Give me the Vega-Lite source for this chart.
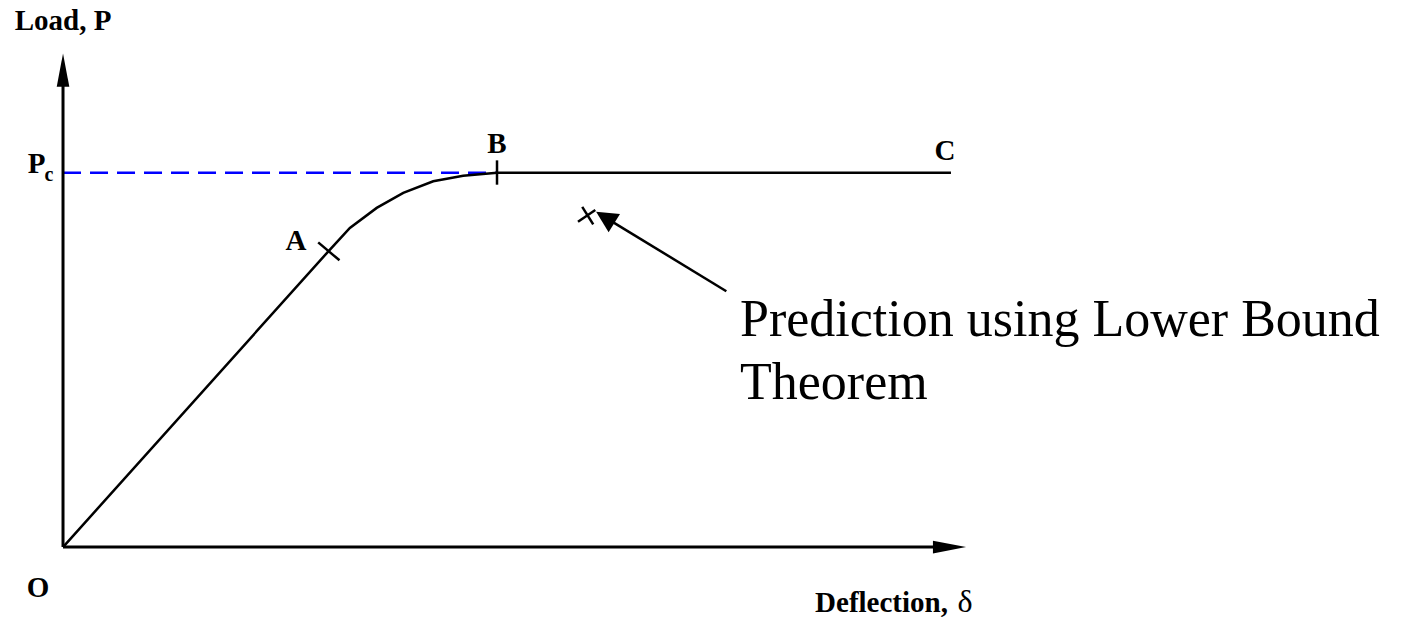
{
  "$schema": "https://vega.github.io/schema/vega-lite/v6.json",
  "width": 1411,
  "height": 618,
  "autosize": {"type": "fit", "contains": "padding"},
  "padding": 0,
  "background": "white",
  "config": {"view": {"stroke": null}},
  "datasets": {
    "curve": [
      {"d": 0.0, "p": 0.0},
      {"d": 0.613, "p": 0.792},
      {"d": 0.661, "p": 0.8525},
      {"d": 0.7228, "p": 0.906},
      {"d": 0.784, "p": 0.946},
      {"d": 0.853, "p": 0.977},
      {"d": 0.922, "p": 0.992},
      {"d": 1.0, "p": 1.0},
      {"d": 2.046, "p": 1.0}
    ],
    "axes": [
      {"part": "load axis", "d0": 0, "p0": 0, "d1": 0, "p1": 1.232},
      {"part": "deflection axis", "d0": 0, "p0": 0, "d1": 2.008, "p1": 0}
    ],
    "segments": [
      {"part": "pointer", "d0": 1.5284, "p0": 0.6835, "d1": 1.2689, "p1": 0.8667},
      {"part": "tick A", "d0": 0.588, "p0": 0.814, "d1": 0.637, "p1": 0.766},
      {"part": "tick B", "d0": 1.0, "p0": 1.033, "d1": 1.0, "p1": 0.968},
      {"part": "lower bound x1", "d0": 1.1866, "p0": 0.8691, "d1": 1.2265, "p1": 0.9003},
      {"part": "lower bound x2", "d0": 1.1964, "p0": 0.9086, "d1": 1.2217, "p1": 0.8622}
    ],
    "collapse": [
      {"d0": 0, "d1": 1.0, "p": 1.0}
    ],
    "labels": [
      {"text": "Load, P", "d": 0.0, "p": 1.3813},
      {"text": "P", "d": -0.0611, "p": 1.0},
      {"text": "A", "d": 0.5369, "p": 0.7947},
      {"text": "B", "d": 1.0, "p": 1.0533},
      {"text": "C", "d": 2.0323, "p": 1.0347},
      {"text": "O", "d": -0.0576, "p": -0.1333},
      {"text": "Deflection,", "d": 1.886, "p": -0.1733}
    ],
    "note": [
      {"text": "Prediction using Lower Bound", "d": 1.5599, "p": 0.5627},
      {"text": "Theorem", "d": 1.5599, "p": 0.3947}
    ]
  },
  "encoding": {
    "x": {"type": "quantitative", "scale": {"domain": [-0.1452, 3.106], "nice": false, "zero": false}, "axis": null},
    "y": {"type": "quantitative", "scale": {"domain": [-0.1867, 1.4613], "nice": false, "zero": false}, "axis": null}
  },
  "layer": [
    {
      "data": {"name": "collapse"},
      "mark": {"type": "rule", "color": "#0000ff", "strokeWidth": 2.5, "strokeDash": [18, 9]},
      "encoding": {
        "x": {"field": "d0", "type": "quantitative"},
        "x2": {"field": "d1"},
        "y": {"field": "p", "type": "quantitative"}
      }
    },
    {
      "data": {"name": "curve"},
      "mark": {"type": "line", "color": "black", "strokeWidth": 2.5, "interpolate": "linear"},
      "encoding": {
        "x": {"field": "d", "type": "quantitative"},
        "y": {"field": "p", "type": "quantitative"},
        "order": {"field": "d", "type": "quantitative"}
      }
    },
    {
      "data": {"name": "axes"},
      "mark": {"type": "rule", "color": "black", "strokeWidth": 3},
      "encoding": {
        "x": {"field": "d0", "type": "quantitative"},
        "y": {"field": "p0", "type": "quantitative"},
        "x2": {"field": "d1"},
        "y2": {"field": "p1"}
      }
    },
    {
      "data": {"name": "segments"},
      "mark": {"type": "rule", "color": "black", "strokeWidth": 2.5},
      "encoding": {
        "x": {"field": "d0", "type": "quantitative"},
        "y": {"field": "p0", "type": "quantitative"},
        "x2": {"field": "d1"},
        "y2": {"field": "p1"}
      }
    },
    {
      "data": {"values": [
        {"head": "load", "d": 0, "p": 1.2739, "angle": 0},
        {"head": "deflection", "d": 2.0426, "p": 0, "angle": 90}
      ]},
      "mark": {"type": "point", "shape": "M0,-1L0.38,1L-0.38,1Z", "filled": true, "color": "black", "opacity": 1, "size": 1100},
      "encoding": {
        "x": {"field": "d", "type": "quantitative"},
        "y": {"field": "p", "type": "quantitative"},
        "angle": {"field": "angle", "type": "quantitative", "scale": null}
      }
    },
    {
      "data": {"values": [
        {"head": "pointer", "d": 1.2493, "p": 0.8805, "angle": -58}
      ]},
      "mark": {"type": "point", "shape": "M0,-1L1,1L-1,1Z", "filled": true, "color": "black", "opacity": 1, "size": 460},
      "encoding": {
        "x": {"field": "d", "type": "quantitative"},
        "y": {"field": "p", "type": "quantitative"},
        "angle": {"field": "angle", "type": "quantitative", "scale": null}
      }
    },
    {
      "data": {"name": "labels"},
      "mark": {"type": "text", "font": "Liberation Serif", "fontWeight": "bold", "fontSize": 29, "align": "center", "baseline": "alphabetic", "color": "black"},
      "encoding": {
        "x": {"field": "d", "type": "quantitative"},
        "y": {"field": "p", "type": "quantitative"},
        "text": {"field": "text"}
      }
    },
    {
      "data": {"values": [{"text": "c", "d": -0.0323, "p": 0.9787}]},
      "mark": {"type": "text", "font": "Liberation Serif", "fontWeight": "bold", "fontSize": 20, "align": "center", "baseline": "alphabetic", "color": "black"},
      "encoding": {
        "x": {"field": "d", "type": "quantitative"},
        "y": {"field": "p", "type": "quantitative"},
        "text": {"field": "text"}
      }
    },
    {
      "data": {"values": [{"text": "δ", "d": 2.0783, "p": -0.1733}]},
      "mark": {"type": "text", "font": "Liberation Serif", "fontSize": 32, "align": "center", "baseline": "alphabetic", "color": "black"},
      "encoding": {
        "x": {"field": "d", "type": "quantitative"},
        "y": {"field": "p", "type": "quantitative"},
        "text": {"field": "text"}
      }
    },
    {
      "data": {"name": "note"},
      "mark": {"type": "text", "font": "Liberation Serif", "fontSize": 52, "align": "left", "baseline": "alphabetic", "color": "black"},
      "encoding": {
        "x": {"field": "d", "type": "quantitative"},
        "y": {"field": "p", "type": "quantitative"},
        "text": {"field": "text"}
      }
    }
  ]
}
